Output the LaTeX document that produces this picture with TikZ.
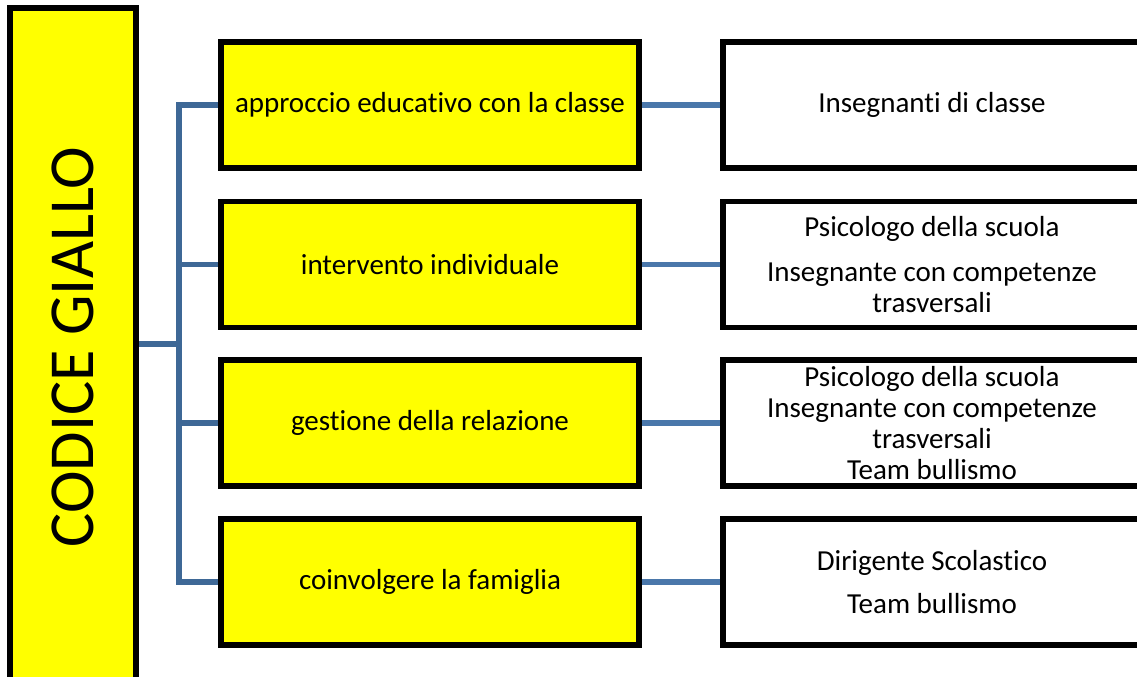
\documentclass[tikz,border=0pt]{standalone}
\usepackage{fontspec}
\setmainfont{Carlito}[Ligatures=NoCommon]
\usepackage{tikz}
\pgfdeclarelayer{bg}
\pgfsetlayers{bg,main}
\definecolor{buscol}{RGB}{62,104,150}
\definecolor{linkcol}{RGB}{74,119,170}
\definecolor{giallo}{RGB}{255,255,0}

\begin{document}
\begin{tikzpicture}[
        codebox/.style={draw, line width=3.4pt, fill=giallo, minimum width=2.52cm, minimum height=13.56cm, inner sep=0pt},
        actionbox/.style={draw, line width=3.4pt, fill=giallo, minimum width=8.36cm, minimum height=2.52cm, inner sep=0pt, align=center, font=\fontsize{16.5}{17.6}\selectfont},
        whobox/.style={actionbox, fill=white},
        busline/.style={draw=buscol, line width=3.1pt},
        link/.style={draw=linkcol, line width=3.1pt}]
        \clip (0cm, 0cm) rectangle (22.74cm, -13.54cm);
        \node (code) [codebox, label={[rotate=90, font=\fontsize{36.5}{36.5}\selectfont]center:CODICE GIALLO}] at (1.46cm, -6.94cm) {};
        \coordinate (hub) at (3.58cm, -6.88cm);
        \node (a1) [actionbox] at (8.60cm, -2.10cm) {approccio educativo con la classe};
        \node (a2) [actionbox] at (8.60cm, -5.29cm) {intervento individuale};
        \node (a3) [actionbox] at (8.60cm, -8.46cm) {gestione della relazione};
        \node (a4) [actionbox] at (8.60cm, -11.64cm) {coinvolgere la famiglia};
        \node (w1) [whobox] at (18.64cm, -2.10cm) {Insegnanti di classe};
        \node (w2) [whobox] at (18.64cm, -5.29cm) {Psicologo della scuola\\[0.28cm] Insegnante con competenze\\ trasversali};
        \node (w3) [whobox] at (18.64cm, -8.46cm) {Psicologo della scuola\\ Insegnante con competenze\\ trasversali\\ Team bullismo};
        \node (w4) [whobox] at (18.64cm, -11.64cm) {Dirigente Scolastico\\[0.26cm] Team bullismo};
        \begin{pgfonlayer}{bg}
                \draw [busline] (a1.west) -| (hub) |- (a4.west);
                \draw [busline] (hub |- a2.west) -- (a2.west);
                \draw [busline] (hub |- a3.west) -- (a3.west);
                \draw [busline] (code.east |- hub) -- (hub);
                \draw (a1) edge [link] (w1);
                \draw (a2) edge [link] (w2);
                \draw (a3) edge [link] (w3);
                \draw (a4) edge [link] (w4);
        \end{pgfonlayer}
\end{tikzpicture}
\end{document}
